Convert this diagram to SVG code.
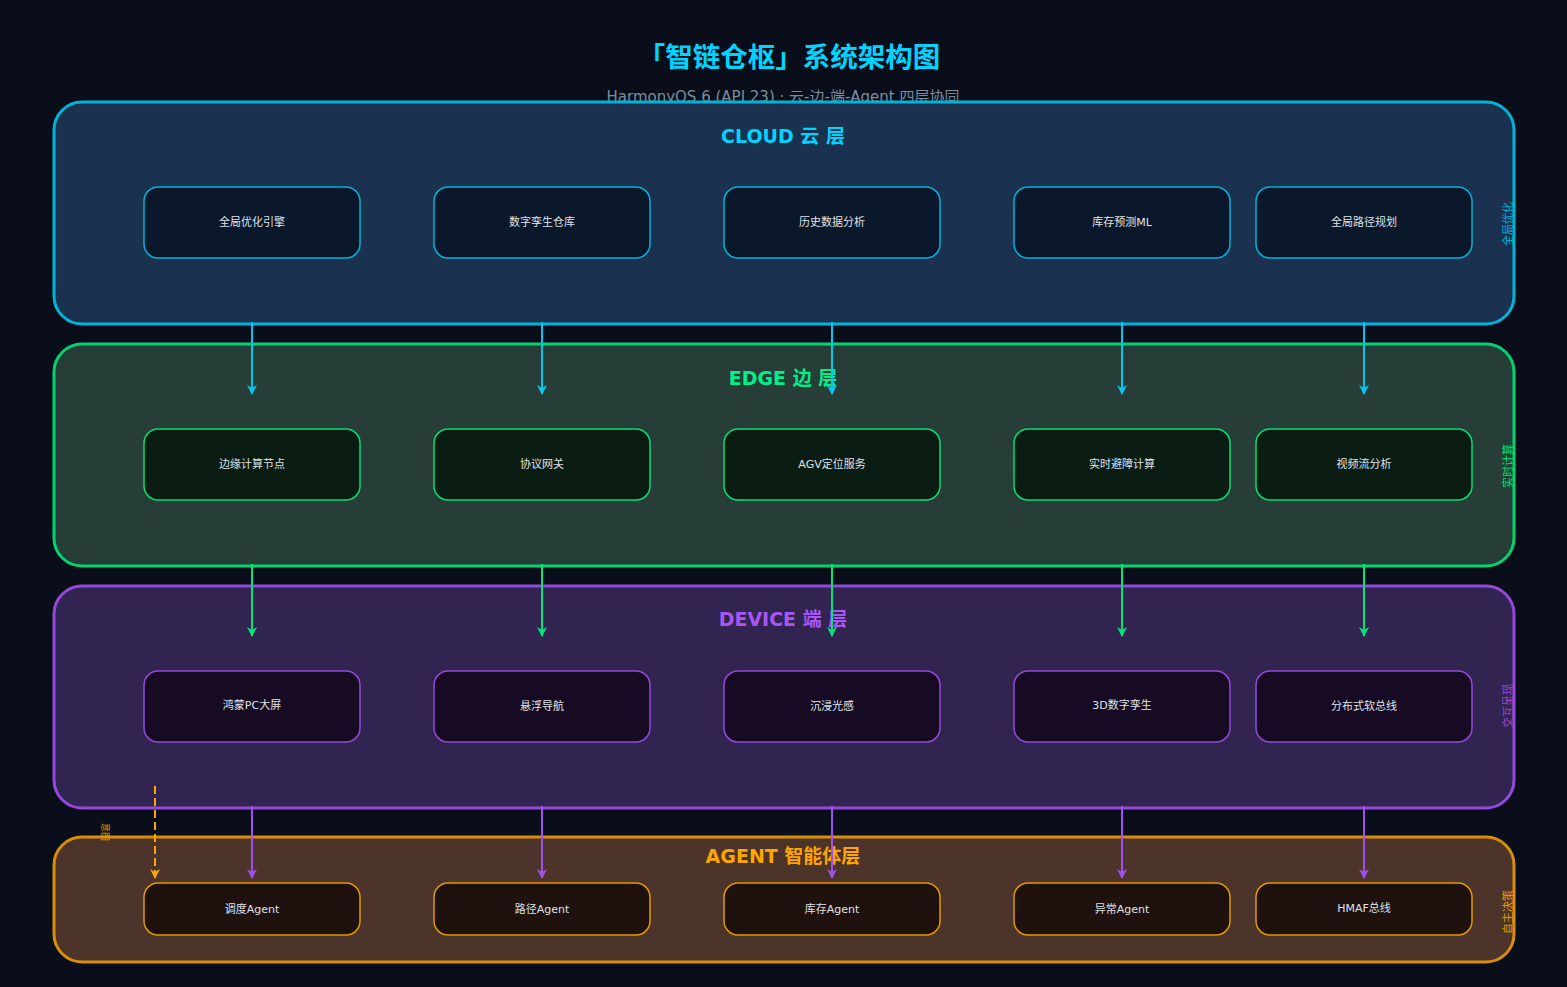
<svg xmlns="http://www.w3.org/2000/svg" width="1567" height="987" viewBox="0 0 1567 987">
<defs>
<style>
text{font-family:"DejaVu Sans","Noto Sans CJK SC",sans-serif;text-anchor:middle;dominant-baseline:central}
.title{font-size:27.5px;font-weight:bold;fill:#00d4ff}
.sub{font-size:15px;fill:#7f8c9a}
.lt{font-size:19px;font-weight:bold}
.nt{font-size:11px;fill:#dfe3ea}
.side{font-size:11px}
.layer{stroke-width:3}
.node{stroke-width:1.5}
.cl .layer{fill:#1a3150;stroke:#00b4d8}
.cl .node{fill:#0b172a;stroke:#00b4d8}
.ed .layer{fill:#263d38;stroke:#00d46f}
.ed .node{fill:#0b1c13;stroke:#00e070}
.dv .layer{fill:#322450;stroke:#9448dc}
.dv .node{fill:#170b24;stroke:#9448dc}
.ag .layer{fill:#4d342a;stroke:#d98e0a}
.ag .node{fill:#1e110e;stroke:#e09a00}
.c1{stroke:#00c8ef;stroke-width:2;fill:none}
.c2{stroke:#00e676;stroke-width:2;fill:none}
.c3{stroke:#a24ff0;stroke-width:2;fill:none}
.c4{stroke:#ffa500;stroke-width:2;fill:none;stroke-dasharray:8 4}
</style>
<marker id="m1" viewBox="0 0 10 10" refX="9" refY="5" markerWidth="5" markerHeight="5" orient="auto"><path d="M0,0 L10,5 L0,10 L3,5 z" fill="#00c8ef"/></marker>
<marker id="m2" viewBox="0 0 10 10" refX="9" refY="5" markerWidth="5" markerHeight="5" orient="auto"><path d="M0,0 L10,5 L0,10 L3,5 z" fill="#00e676"/></marker>
<marker id="m3" viewBox="0 0 10 10" refX="9" refY="5" markerWidth="5" markerHeight="5" orient="auto"><path d="M0,0 L10,5 L0,10 L3,5 z" fill="#a24ff0"/></marker>
<marker id="m4" viewBox="0 0 10 10" refX="9" refY="5" markerWidth="5" markerHeight="5" orient="auto"><path d="M0,0 L10,5 L0,10 L3,5 z" fill="#ffa500"/></marker>
</defs>
<rect x="0" y="0" width="1567" height="987" fill="#0a0e1a"/>
<text class="title" x="789" y="57">「智链仓枢」系统架构图</text>
<text class="sub" x="783" y="97">HarmonyOS 6 (API 23) · 云-边-端-Agent 四层协同</text>

<g id="layer-cloud" class="cl">
<rect class="layer" x="54" y="102" width="1460" height="222" rx="28"/>
<text class="lt" x="783" y="136" fill="#00d4ff">CLOUD 云 层</text>
<text class="side" x="1508" y="224" fill="#00b4d8" transform="rotate(-90 1508 224)">全局优化</text>
</g>
<g id="layer-edge" class="ed">
<rect class="layer" x="54" y="344" width="1460" height="222" rx="28"/>
<text class="lt" x="783" y="378" fill="#00f08a">EDGE 边 层</text>
<text class="side" x="1508" y="466" fill="#00e070" transform="rotate(-90 1508 466)">实时计算</text>
</g>
<g id="layer-device" class="dv">
<rect class="layer" x="54" y="586" width="1460" height="222" rx="28"/>
<text class="lt" x="783" y="619" fill="#a855f7">DEVICE 端 层</text>
<text class="side" x="1508" y="706" fill="#9448dc" transform="rotate(-90 1508 706)">交互呈现</text>
</g>
<g id="layer-agent" class="ag">
<rect class="layer" x="54" y="837" width="1460" height="125" rx="28"/>
<text class="lt" x="783" y="856" fill="#ffa500">AGENT 智能体层</text>
<text class="side" x="1508" y="912" fill="#e09a00" transform="rotate(-90 1508 912)">自主决策</text>
</g>

<g class="cl">
<g id="n-c1"><rect class="node" x="144" y="187" width="216" height="71" rx="14"/><text class="nt" x="252" y="222">全局优化引擎</text></g>
<g id="n-c2"><rect class="node" x="434" y="187" width="216" height="71" rx="14"/><text class="nt" x="542" y="222">数字孪生仓库</text></g>
<g id="n-c3"><rect class="node" x="724" y="187" width="216" height="71" rx="14"/><text class="nt" x="832" y="222">历史数据分析</text></g>
<g id="n-c4"><rect class="node" x="1014" y="187" width="216" height="71" rx="14"/><text class="nt" x="1122" y="222">库存预测ML</text></g>
<g id="n-c5"><rect class="node" x="1256" y="187" width="216" height="71" rx="14"/><text class="nt" x="1364" y="222">全局路径规划</text></g>
</g>
<g class="ed">
<g id="n-e1"><rect class="node" x="144" y="429" width="216" height="71" rx="14"/><text class="nt" x="252" y="464">边缘计算节点</text></g>
<g id="n-e2"><rect class="node" x="434" y="429" width="216" height="71" rx="14"/><text class="nt" x="542" y="464">协议网关</text></g>
<g id="n-e3"><rect class="node" x="724" y="429" width="216" height="71" rx="14"/><text class="nt" x="832" y="464">AGV定位服务</text></g>
<g id="n-e4"><rect class="node" x="1014" y="429" width="216" height="71" rx="14"/><text class="nt" x="1122" y="464">实时避障计算</text></g>
<g id="n-e5"><rect class="node" x="1256" y="429" width="216" height="71" rx="14"/><text class="nt" x="1364" y="464">视频流分析</text></g>
</g>
<g class="dv">
<g id="n-d1"><rect class="node" x="144" y="671" width="216" height="71" rx="14"/><text class="nt" x="252" y="705">鸿蒙PC大屏</text></g>
<g id="n-d2"><rect class="node" x="434" y="671" width="216" height="71" rx="14"/><text class="nt" x="542" y="706">悬浮导航</text></g>
<g id="n-d3"><rect class="node" x="724" y="671" width="216" height="71" rx="14"/><text class="nt" x="832" y="706">沉浸光感</text></g>
<g id="n-d4"><rect class="node" x="1014" y="671" width="216" height="71" rx="14"/><text class="nt" x="1122" y="705">3D数字孪生</text></g>
<g id="n-d5"><rect class="node" x="1256" y="671" width="216" height="71" rx="14"/><text class="nt" x="1364" y="706">分布式软总线</text></g>
</g>
<g class="ag">
<g id="n-a1"><rect class="node" x="144" y="883" width="216" height="52" rx="14"/><text class="nt" x="252" y="909">调度Agent</text></g>
<g id="n-a2"><rect class="node" x="434" y="883" width="216" height="52" rx="14"/><text class="nt" x="542" y="909">路径Agent</text></g>
<g id="n-a3"><rect class="node" x="724" y="883" width="216" height="52" rx="14"/><text class="nt" x="832" y="909">库存Agent</text></g>
<g id="n-a4"><rect class="node" x="1014" y="883" width="216" height="52" rx="14"/><text class="nt" x="1122" y="909">异常Agent</text></g>
<g id="n-a5"><rect class="node" x="1256" y="883" width="216" height="52" rx="14"/><text class="nt" x="1364" y="908">HMAF总线</text></g>
</g>

<g id="connectors">
<path class="c1" marker-end="url(#m1)" d="M252,322V394"/>
<path class="c1" marker-end="url(#m1)" d="M542,322V394"/>
<path class="c1" marker-end="url(#m1)" d="M832,322V394"/>
<path class="c1" marker-end="url(#m1)" d="M1122,322V394"/>
<path class="c1" marker-end="url(#m1)" d="M1364,322V394"/>
<path class="c2" marker-end="url(#m2)" d="M252,564V636"/>
<path class="c2" marker-end="url(#m2)" d="M542,564V636"/>
<path class="c2" marker-end="url(#m2)" d="M832,564V636"/>
<path class="c2" marker-end="url(#m2)" d="M1122,564V636"/>
<path class="c2" marker-end="url(#m2)" d="M1364,564V636"/>
<path class="c3" marker-end="url(#m3)" d="M252,806V878"/>
<path class="c3" marker-end="url(#m3)" d="M542,806V878"/>
<path class="c3" marker-end="url(#m3)" d="M832,806V878"/>
<path class="c3" marker-end="url(#m3)" d="M1122,806V878"/>
<path class="c3" marker-end="url(#m3)" d="M1364,806V878"/>
<path class="c4" marker-end="url(#m4)" d="M155,786V878"/>
<text x="105" y="832" font-size="9" fill="#e09a00" transform="rotate(90 105 832)">意图</text>
</g>
</svg>
